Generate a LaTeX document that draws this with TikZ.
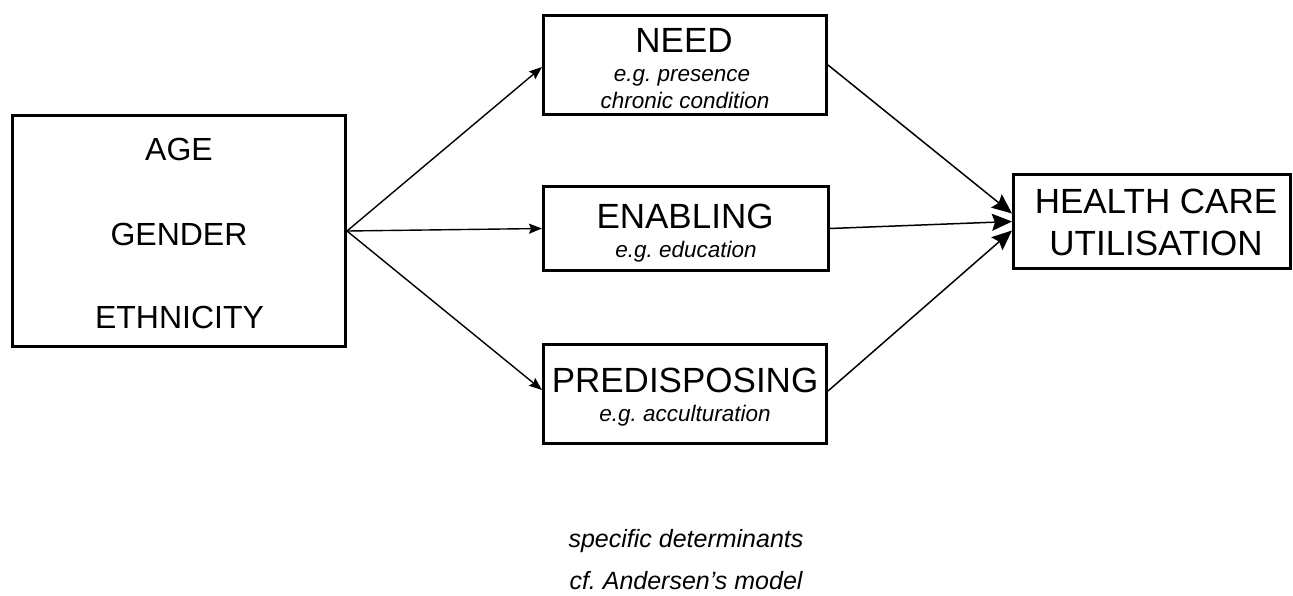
\documentclass[tikz,border=0pt]{standalone}
\usepackage{fontspec}
\setmainfont{Liberation Sans}
\usetikzlibrary{arrows.meta}
\frenchspacing
\tikzset{
  box/.style={draw=black, line width=3pt, inner sep=0pt, fill=none},
  big/.style={anchor=base, inner sep=0pt, font=\fontsize{35}{40}\selectfont},
  leftt/.style={anchor=base, inner sep=0pt, font=\fontsize{32}{38}\selectfont},
  ital/.style={anchor=base, inner sep=0pt, font=\fontsize{22.5}{27}\selectfont\itshape},
  note/.style={anchor=base, inner sep=0pt, font=\fontsize{25}{30}\selectfont\itshape},
  arrsmall/.style={line width=1.4pt, -{Stealth[length=13pt,width=10pt,inset=2pt]}},
  arrbig/.style={line width=1.5pt, -{Stealth[length=20pt,width=17pt,inset=3pt]}}
}
\begin{document}
\begin{tikzpicture}[x=1pt,y=-1pt]
\useasboundingbox (0,0) rectangle (1293,595);
% boxes
\node[box, minimum width=333pt, minimum height=231pt] (left) at (179,231) {};
\node[box, minimum width=283pt, minimum height=99pt] (need) at (685,65) {};
\node[box, minimum width=285pt, minimum height=84pt] (enab) at (686,228.5) {};
\node[box, minimum width=283pt, minimum height=99pt] (pred) at (685,394) {};
\node[box, minimum width=277pt, minimum height=94pt] (health) at (1152,221.5) {};
% texts
\node[leftt] (age) at (179,160) {AGE};
\node[leftt] (gender) at (179,245) {GENDER};
\node[leftt] (eth) at (179.5,328) {ETHNICITY};
\node[big] (needt) at (684,52) {NEED};
\node[ital] (needa) at (682,81) {e.g. presence};
\node[ital] (needb) at (685,108) {chronic condition};
\node[big] (enabt) at (685,228) {ENABLING};
\node[ital] (enaba) at (686,257) {e.g. education};
\node[big] (predt) at (685,392) {PREDISPOSING};
\node[ital] (preda) at (685,421) {e.g. acculturation};
\node[big] (healtha) at (1156,213) {HEALTH CARE};
\node[big] (healthb) at (1156,255) {UTILISATION};
\node[note] (n1) at (686,547) {specific determinants};
\node[note] (n2) at (686,589) {cf. Andersen’s model};
% connectors
\coordinate (src) at (left.east);
\draw[arrsmall] (src) -- ([yshift=-2pt]need.west);
\draw[arrsmall] (src) -- (enab.west);
\draw[arrsmall] (src) -- ([yshift=4pt]pred.west);
\draw[arrbig] (need.east) -- ([yshift=8pt]health.west);
\draw[arrbig] (enab.east) -- ([yshift=0pt]health.west);
\draw[arrbig] ([yshift=3pt]pred.east) -- ([yshift=-9pt]health.west);
\end{tikzpicture}
\end{document}
